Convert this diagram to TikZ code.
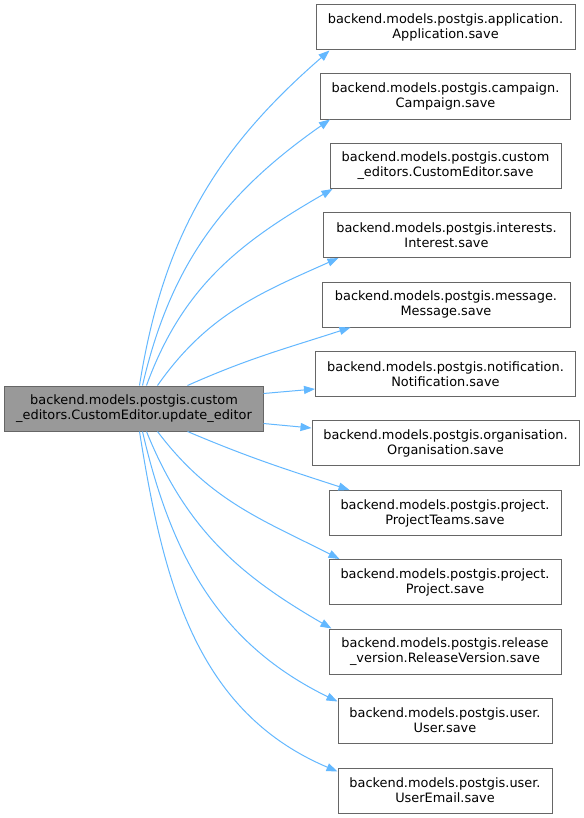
\documentclass[tikz,border=0pt]{standalone}
\usepackage{fontspec}
\setmainfont{DejaVu Sans}
\usetikzlibrary{arrows.meta,calc}
\definecolor{edgeblue}{HTML}{63B8FF}
\definecolor{boxborder}{HTML}{666666}
\definecolor{curfill}{HTML}{999999}
\begin{document}
\begin{tikzpicture}[x=1bp,y=-1bp,
  box/.style={draw=boxborder, line width=1bp, fill=white, align=center, inner sep=0pt,
    minimum height=45bp, font=\fontsize{12.9bp}{15bp}\selectfont},
  cur/.style={box, fill=curfill},
  edge/.style={draw=edgeblue, line width=1bp, -{Triangle[length=11bp,width=8bp]}}]
\useasboundingbox[fill=white] (0,0) rectangle (584,818);

\node[cur, minimum width=258bp] (L) at (134,408.5) {backend.models.postgis.custom\\\_editors.CustomEditor.update\_editor};

\node[box, minimum width=259bp] (n1) at (445.5,27.5) {backend.models.postgis.application.\\Application.save};
\node[box, minimum width=250bp] (n2) at (445.5,96.5) {backend.models.postgis.campaign.\\Campaign.save};
\node[box, minimum width=231bp] (n3) at (445.5,166) {backend.models.postgis.custom\\\_editors.CustomEditor.save};
\node[box, minimum width=247bp] (n4) at (446.5,235) {backend.models.postgis.interests.\\Interest.save};
\node[box, minimum width=248bp] (n5) at (446,304.5) {backend.models.postgis.message.\\Message.save};
\node[box, minimum width=260bp] (n6) at (445.5,374) {backend.models.postgis.notification.\\Notification.save};
\node[box, minimum width=267bp] (n7) at (445.5,443) {backend.models.postgis.organisation.\\Organisation.save};
\node[box, minimum width=232bp] (n8) at (445,513) {backend.models.postgis.project.\\ProjectTeams.save};
\node[box, minimum width=232bp] (n9) at (445,582) {backend.models.postgis.project.\\Project.save};
\node[box, minimum width=232bp] (n10) at (445,651.5) {backend.models.postgis.release\\\_version.ReleaseVersion.save};
\node[box, minimum width=214bp] (n11) at (445,720.5) {backend.models.postgis.user.\\User.save};
\node[box, minimum width=214bp] (n12) at (445,790.5) {backend.models.postgis.user.\\UserEmail.save};

\draw[edge] ($(L.north west)+(135,0)$) to[out=81,in=221] ($(n1.south west)+(14,0)$);
\draw[edge] ($(L.north west)+(138,0)$) to[out=77,in=215] ($(n2.south west)+(10,0)$);
\draw[edge] ($(L.north west)+(142,0)$) to[out=70,in=210] ($(n3.south west)+(3,0)$);
\draw[edge] ($(L.north west)+(153,0)$) to[out=55,in=204] ($(n4.south west)+(16,0)$);
\draw[edge] ($(L.north west)+(183,0)$) to[out=24,in=198] ($(n5.south west)+(29,0)$);
\draw[edge] ($(L.east)+(0,-15)$) -- ($(n6.west)+(0,15)$);
\draw[edge] ($(L.east)+(0,15)$) -- ($(n7.west)+(0,-15)$);
\draw[edge] ($(L.south west)+(183,0)$) to[out=-23,in=162] ($(n8.north west)+(21,0)$);
\draw[edge] ($(L.south west)+(153,0)$) to[out=-53,in=153] ($(n9.north west)+(11,0)$);
\draw[edge] ($(L.south west)+(142,0)$) to[out=-68,in=150] ($(n10.north west)+(3,0)$);
\draw[edge] ($(L.south west)+(138,0)$) to[out=-77,in=154] ($(n11.north west)+(0,4)$);
\draw[edge] ($(L.south west)+(135,0)$) to[out=-81,in=157] ($(n12.north west)+(0,4)$);
\end{tikzpicture}
\end{document}
